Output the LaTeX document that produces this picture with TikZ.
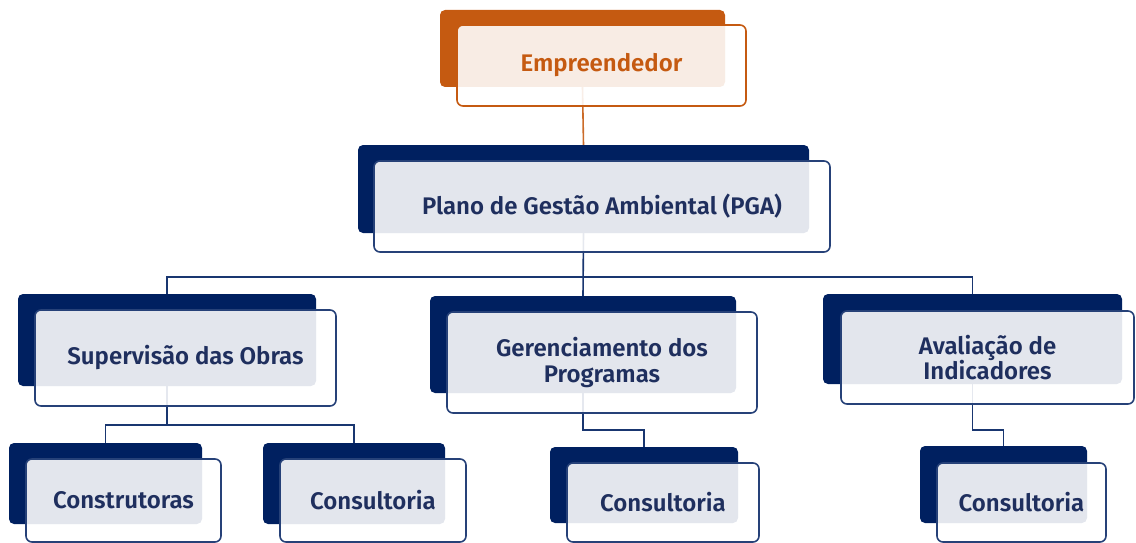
\documentclass[tikz,border=0pt]{standalone}
\usepackage{fontspec}
\setmainfont{Fira Sans SemiBold}
\usetikzlibrary{backgrounds}
\definecolor{navy}{HTML}{002060}
\definecolor{navytxt}{HTML}{1F2F5E}
\definecolor{orng}{HTML}{C55A11}
\tikzset{
  backbox/.style={fill=navy, draw=none, rounded corners=5pt, inner sep=0pt, outer sep=0pt},
  frontbox/.style={fill=white, fill opacity=0.89, text opacity=1, draw=navy!85!white, line width=1.6pt,
     rounded corners=6pt, inner sep=0pt, outer sep=0pt, align=center, text=navytxt,
     font=\fontsize{24}{25.5}\selectfont},
  obackbox/.style={backbox, fill=orng},
  ofrontbox/.style={frontbox, draw=orng, text=orng},
  conn/.style={draw=navy!90!white, line width=1.6pt},
  oconn/.style={draw=orng!90!white, line width=1.6pt},
}
\begin{document}
\begin{tikzpicture}[x=1pt,y=-1pt]
\useasboundingbox (0,0) rectangle (1136,543);
% Empreendedor
\node[obackbox, minimum width=285pt, minimum height=77pt] (empb) at (582.5,48.5) {};
\node[ofrontbox, minimum width=289pt, minimum height=81pt] (emp) at (601.5,65.5) {Empreendedor};
% PGA
\node[backbox, minimum width=451pt, minimum height=88pt] (pgab) at (583.5,189) {};
\node[frontbox, minimum width=456pt, minimum height=91pt] (pga) at (602,206.5) {Plano de Gestão Ambiental (PGA)};
% Supervisao
\node[backbox, minimum width=298pt, minimum height=92pt] (supb) at (167,340) {};
\node[frontbox, minimum width=301pt, minimum height=96pt] (sup) at (185.5,358) {Supervisão das Obras};
% Gerenciamento
\node[backbox, minimum width=306pt, minimum height=97pt] (gerb) at (583,344.5) {};
\node[frontbox, minimum width=310pt, minimum height=101pt] (ger) at (602,362.5) {Gerenciamento dos\\Programas};
% Avaliacao
\node[backbox, minimum width=299pt, minimum height=90pt] (avab) at (972.5,339) {};
\node[frontbox, minimum width=293pt, minimum height=93pt] (ava) at (987.5,357.5) {Avaliação de\\Indicadores};
% Construtoras
\node[backbox, minimum width=193pt, minimum height=81pt] (conb) at (105.5,483.5) {};
\node[frontbox, minimum width=195pt, minimum height=83pt] (con) at (123.5,500.5) {Construtoras};
% Consultoria 1
\node[backbox, minimum width=182pt, minimum height=81pt] (csaa) at (354,483.5) {};
\node[frontbox, minimum width=186pt, minimum height=83pt] (csa) at (373,500.5) {Consultoria};
% Consultoria 2
\node[backbox, minimum width=188pt, minimum height=76pt] (csbb) at (644,485) {};
\node[frontbox, minimum width=192pt, minimum height=79pt] (csb) at (663,502.5) {Consultoria};
% Consultoria 3
\node[backbox, minimum width=167pt, minimum height=77pt] (cscb) at (1003.5,484.5) {};
\node[frontbox, minimum width=169pt, minimum height=79pt] (csc) at (1021.5,502.5) {Consultoria};
% connectors
\begin{scope}[on background layer]
\draw[oconn] (empb.south) -- (pgab.north);
\draw[conn] (pgab.south) -- (gerb.north);
\draw[conn] (pgab.south) -- ++(0,44) -| (supb.north);
\draw[conn] (pgab.south) -- ++(0,44) -| (avab.north);
\draw[conn] (supb.south) -- ++(0,39) -| (conb.north);
\draw[conn] (supb.south) -- ++(0,39) -| (csaa.north);
\draw[conn] (gerb.south) -- ++(0,37) -| (csbb.north);
\draw[conn] (avab.south) -- ++(0,46) -| (cscb.north);
\end{scope}
\end{tikzpicture}
\end{document}
